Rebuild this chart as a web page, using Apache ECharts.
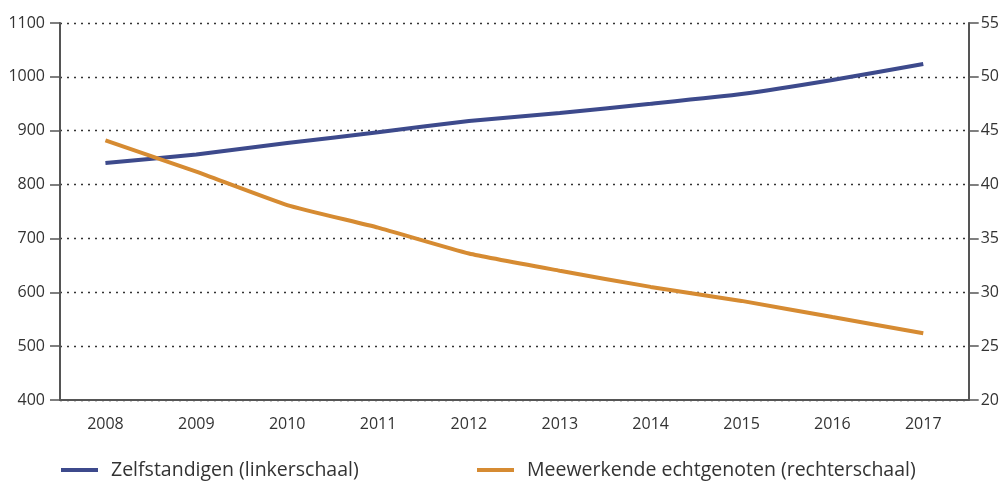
<!DOCTYPE html>
<html>
<head>
<meta charset="utf-8">
<script src="https://cdn.jsdelivr.net/npm/echarts@6/dist/echarts.min.js"></script>
<style>
    html, body { margin: 0; padding: 0; background: #fff; }
    #chart { width: 1002px; height: 482px; }
</style>
</head>
<body>
<div id="chart"></div>
<script>
    // data
    var years = ['2008', '2009', '2010', '2011', '2012', '2013', '2014', '2015', '2016', '2017'];
    var zelfstandigen = [840, 856, 877, 897, 918, 933, 950, 968, 994, 1024];
    var meewerkende = [44.1, 41.2, 38.1, 36.0, 33.6, 32.0, 30.5, 29.2, 27.7, 26.2];
    var nameLeft = 'Zelfstandigen (linkerschaal)';
    var nameRight = 'Meewerkende echtgenoten (rechterschaal)';

    var axisColor = '#555';
    var textColor = '#333';
    var font = 'Open Sans';

    var chart = echarts.init(document.getElementById('chart'));
    var option = {
        backgroundColor: '#fff',
        animation: false,
        textStyle: { fontFamily: font },
        grid: { left: 60, right: 32, top: 23, bottom: 82 },
        legend: [{
            data: [nameLeft],
            left: 61,
            top: 460,
            padding: 0,
            icon: 'rect',
            itemWidth: 37,
            itemHeight: 4,
            textStyle: { fontSize: 19.5, color: textColor, fontFamily: font, padding: [0, 0, 0, 8] }
        }, {
            data: [nameRight],
            left: 477,
            top: 460,
            padding: 0,
            icon: 'rect',
            itemWidth: 37,
            itemHeight: 4,
            textStyle: { fontSize: 19.5, color: textColor, fontFamily: font, padding: [0, 0, 0, 8] }
        }],
        xAxis: {
            type: 'category',
            data: years,
            boundaryGap: true,
            axisLine: { lineStyle: { color: axisColor, width: 2 } },
            axisTick: { inside: true, length: 10, interval: 0, lineStyle: { color: axisColor, width: 2 } },
            axisLabel: { color: textColor, fontSize: 16, margin: 16 }
        },
        yAxis: [{
            type: 'value',
            min: 400,
            max: 1100,
            interval: 100,
            axisLine: { show: true, lineStyle: { color: axisColor, width: 2 } },
            axisTick: { show: true, length: 10, lineStyle: { color: axisColor, width: 1.5 } },
            axisLabel: { color: textColor, fontSize: 16, margin: 15, formatter: function (v) { return String(v); } },
            splitLine: { show: true, lineStyle: { color: '#333', width: 1.3, type: [2, 5] } }
        }, {
            type: 'value',
            min: 20,
            max: 55,
            interval: 5,
            position: 'right',
            axisLine: { show: true, lineStyle: { color: axisColor, width: 2 } },
            axisTick: { show: true, length: 10, lineStyle: { color: axisColor, width: 1.5 } },
            axisLabel: { color: textColor, fontSize: 16, margin: 12 },
            splitLine: { show: false }
        }],
        series: [{
            name: nameLeft,
            type: 'line',
            yAxisIndex: 0,
            data: zelfstandigen,
            smooth: 0.15,
            symbol: 'none',
            color: '#3d4a8c',
            lineStyle: { width: 4 }
        }, {
            name: nameRight,
            type: 'line',
            yAxisIndex: 1,
            data: meewerkende,
            smooth: 0.15,
            symbol: 'none',
            color: '#d68b32',
            lineStyle: { width: 4 }
        }]
    };
    chart.setOption(option);
</script>
</body>
</html>
